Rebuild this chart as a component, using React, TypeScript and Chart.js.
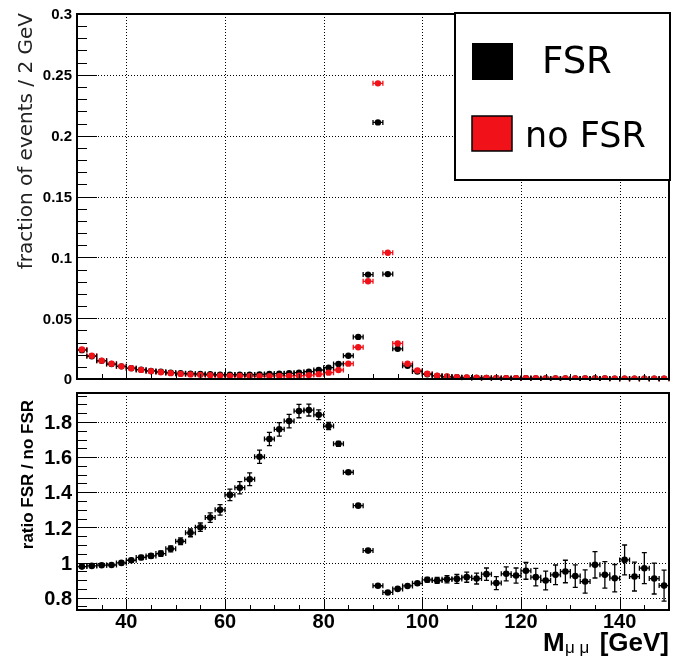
import React, { useEffect, useRef } from 'react';
import { Chart, registerables } from 'chart.js';

Chart.register(...registerables);

// ---- data ----
const massBins = [
  31, 33, 35, 37, 39, 41, 43, 45, 47, 49,
  51, 53, 55, 57, 59, 61, 63, 65, 67, 69,
  71, 73, 75, 77, 79, 81, 83, 85, 87, 89,
  91, 93, 95, 97, 99, 101, 103, 105, 107, 109,
  111, 113, 115, 117, 119, 121, 123, 125, 127, 129,
  131, 133, 135, 137, 139, 141, 143, 145, 147, 149,
];
const binHalfWidth = 1;

const noFsrFraction = [
  0.0243, 0.0191, 0.0151, 0.0125, 0.0104, 0.0088, 0.0075, 0.0064, 0.0056, 0.0048,
  0.0042, 0.0038, 0.0034, 0.0031, 0.0028, 0.0026, 0.0025, 0.0024, 0.0024, 0.0024,
  0.0025, 0.0026, 0.0028, 0.0032, 0.0040, 0.0052, 0.0074, 0.0126, 0.0261, 0.0803,
  0.2430, 0.1038, 0.0292, 0.0125, 0.0070, 0.0043, 0.0028, 0.0020, 0.0015, 0.0012,
  0.0010, 0.0009, 0.0008, 0.0007, 0.0007, 0.0006, 0.0006, 0.0005, 0.0005, 0.0005,
  0.0004, 0.0004, 0.0004, 0.0004, 0.0003, 0.0003, 0.0003, 0.0003, 0.0003, 0.0003,
];

const fsrFraction = [
  0.0237, 0.0187, 0.0149, 0.0123, 0.0104, 0.0089, 0.0077, 0.0066, 0.0059, 0.0052,
  0.0047, 0.0044, 0.0041, 0.0039, 0.0036, 0.0036, 0.0036, 0.0035, 0.0038, 0.0041,
  0.0044, 0.0047, 0.0052, 0.0060, 0.0074, 0.0093, 0.0124, 0.0191, 0.0346, 0.0858,
  0.2109, 0.0862, 0.0248, 0.0108, 0.0062, 0.0039, 0.0025, 0.0018, 0.0014, 0.0011,
  0.0009, 0.0008, 0.0007, 0.00066, 0.00065, 0.00057, 0.00055, 0.00045, 0.00047, 0.00047,
  0.00037, 0.00036, 0.0004, 0.00037, 0.00027, 0.0003, 0.00028, 0.00029, 0.00027, 0.00026,
];

const ratioValues = [
  0.977, 0.981, 0.985, 0.986, 0.998, 1.013, 1.029, 1.038, 1.051, 1.078,
  1.121, 1.169, 1.201, 1.256, 1.300, 1.385, 1.426, 1.474, 1.602, 1.703,
  1.758, 1.805, 1.862, 1.868, 1.841, 1.777, 1.676, 1.514, 1.324, 1.068,
  0.868, 0.830, 0.850, 0.867, 0.882, 0.902, 0.898, 0.905, 0.907, 0.917,
  0.909, 0.934, 0.883, 0.936, 0.926, 0.953, 0.917, 0.898, 0.930, 0.949,
  0.923, 0.892, 0.987, 0.930, 0.911, 1.015, 0.920, 0.968, 0.909, 0.869,
];

const ratioErrors = [
  0.007, 0.007, 0.008, 0.008, 0.009, 0.011, 0.012, 0.013, 0.015, 0.017,
  0.019, 0.022, 0.024, 0.027, 0.030, 0.033, 0.035, 0.036, 0.038, 0.038,
  0.038, 0.038, 0.038, 0.034, 0.028, 0.021, 0.014, 0.009, 0.006, 0.004,
  0.003, 0.004, 0.005, 0.007, 0.009, 0.013, 0.017, 0.021, 0.025, 0.029,
  0.031, 0.035, 0.037, 0.040, 0.043, 0.048, 0.050, 0.053, 0.056, 0.064,
  0.064, 0.066, 0.075, 0.075, 0.078, 0.085, 0.082, 0.088, 0.088, 0.088,
];

const topYTicks = [0, 0.05, 0.1, 0.15, 0.2, 0.25, 0.3];
const topYLabels = ['0', '0.05', '0.1', '0.15', '0.2', '0.25', '0.3'];
const bottomYTicks = [0.8, 1.0, 1.2, 1.4, 1.6, 1.8];
const bottomYLabels = ['0.8', '1', '1.2', '1.4', '1.6', '1.8'];
const xTicks = [40, 60, 80, 100, 120, 140];
const xTickLabels = ['40', '60', '80', '100', '120', '140'];
const legendLabels = ['FSR', 'no FSR'];
const topYTitle = 'fraction of events / 2 GeV';
const bottomYTitle = 'ratio FSR / no FSR';
const xTitleMain = 'M';
const xTitleSub = 'μ μ';
const xTitleUnit = '[GeV]';

const RED = '#f01218';
const BLACK = '#000000';
const SANS = '"Liberation Sans", Arial, Helvetica, sans-serif';
const DEJAVU = '"DejaVu Sans", sans-serif';

function steps(a: number, b: number, s: number): number[] {
  const out: number[] = [];
  const n = Math.round((b - a) / s);
  for (let i = 0; i <= n; i++) out.push(+(a + i * s).toFixed(6));
  return out;
}

type Cfg = {
  yMajor: number[];
  yLabels: string[];
  yMinorStep: number;
  yLabelFont: string;
  xLabels: boolean;
  errorsY: boolean;
  isTop: boolean;
};

function makePlugin(cfg: Cfg) {
  return {
    id: 'rootStyle' + (cfg.isTop ? 'Top' : 'Bottom'),
    beforeDatasetsDraw(chart: any) {
      const { ctx, chartArea } = chart;
      const { left, right, top, bottom } = chartArea;
      const xs = chart.scales.x;
      const ys = chart.scales.y;
      ctx.save();
      ctx.strokeStyle = '#000';
      ctx.lineWidth = 1;
      ctx.setLineDash([1, 2]);
      xTicks.forEach((v) => {
        const px = Math.round(xs.getPixelForValue(v)) + 0.5;
        ctx.beginPath();
        ctx.moveTo(px, top);
        ctx.lineTo(px, bottom);
        ctx.stroke();
      });
      cfg.yMajor.forEach((v) => {
        if (v <= ys.min + 1e-9 || v >= ys.max - 1e-9) return;
        const py = Math.round(ys.getPixelForValue(v)) + 0.5;
        ctx.beginPath();
        ctx.moveTo(left, py);
        ctx.lineTo(right, py);
        ctx.stroke();
      });
      ctx.setLineDash([]);
      // error bars
      chart.data.datasets.forEach((ds: any) => {
        ctx.strokeStyle = ds.backgroundColor;
        ctx.lineWidth = 1.3;
        ds.data.forEach((p: any, i: number) => {
          const cx = xs.getPixelForValue(p.x);
          const cy = ys.getPixelForValue(p.y);
          const x0 = xs.getPixelForValue(p.x - binHalfWidth);
          const x1 = xs.getPixelForValue(p.x + binHalfWidth);
          ctx.beginPath();
          ctx.moveTo(x0, cy);
          ctx.lineTo(x1, cy);
          ctx.moveTo(x0, cy - 2.5);
          ctx.lineTo(x0, cy + 2.5);
          ctx.moveTo(x1, cy - 2.5);
          ctx.lineTo(x1, cy + 2.5);
          ctx.stroke();
          if (cfg.errorsY && ds.errors) {
            const e = ds.errors[i];
            const y0 = ys.getPixelForValue(p.y - e);
            const y1 = ys.getPixelForValue(p.y + e);
            ctx.beginPath();
            ctx.moveTo(cx, y0);
            ctx.lineTo(cx, y1);
            ctx.moveTo(cx - 2.5, y0);
            ctx.lineTo(cx + 2.5, y0);
            ctx.moveTo(cx - 2.5, y1);
            ctx.lineTo(cx + 2.5, y1);
            ctx.stroke();
          }
        });
      });
      ctx.restore();
    },
    afterDatasetsDraw(chart: any) {
      const { ctx, chartArea } = chart;
      const { left, right, top, bottom } = chartArea;
      const xs = chart.scales.x;
      const ys = chart.scales.y;
      ctx.save();
      ctx.strokeStyle = '#000';
      ctx.fillStyle = '#000';
      // ticks
      ctx.lineWidth = 1;
      ctx.beginPath();
      steps(xs.min, xs.max, 5).forEach((v) => {
        if (v <= xs.min || v >= xs.max) return;
        const major = xTicks.indexOf(v) >= 0;
        const px = Math.round(xs.getPixelForValue(v)) + 0.5;
        ctx.moveTo(px, bottom);
        ctx.lineTo(px, bottom - (major ? 11 : 5));
      });
      const yMinors = steps(
        Math.ceil(ys.min / cfg.yMinorStep - 1e-9) * cfg.yMinorStep,
        Math.floor(ys.max / cfg.yMinorStep + 1e-9) * cfg.yMinorStep,
        cfg.yMinorStep
      );
      yMinors.forEach((v) => {
        if (v <= ys.min + 1e-9 || v >= ys.max - 1e-9) return;
        const major = cfg.yMajor.some((m) => Math.abs(m - v) < 1e-6);
        const py = Math.round(ys.getPixelForValue(v)) + 0.5;
        ctx.moveTo(left, py);
        ctx.lineTo(left + (major ? 20 : 10), py);
      });
      ctx.stroke();
      // frame
      ctx.lineWidth = 2;
      ctx.strokeRect(left, top, right - left, bottom - top);
      // y tick labels
      ctx.font = cfg.yLabelFont;
      ctx.textAlign = 'right';
      ctx.textBaseline = 'alphabetic';
      const ySize = parseFloat(cfg.yLabelFont.match(/(\d+)px/)![1]);
      cfg.yMajor.forEach((v, i) => {
        const py = ys.getPixelForValue(v);
        ctx.fillText(cfg.yLabels[i], left - 5, py + 0.358 * ySize);
      });
      if (cfg.xLabels) {
        ctx.font = 'bold 20px ' + SANS;
        ctx.textAlign = 'center';
        xTicks.forEach((v, i) => {
          ctx.fillText(xTickLabels[i], xs.getPixelForValue(v), bottom + 18);
        });
        // x title
        ctx.textAlign = 'left';
        ctx.font = 'bold 26px ' + SANS;
        ctx.fillText(xTitleMain, 543, bottom + 41);
        ctx.font = '17px ' + SANS;
        ctx.fillText(xTitleSub, 565, bottom + 43);
        ctx.textAlign = 'right';
        ctx.font = 'bold 26px ' + SANS;
        ctx.fillText(xTitleUnit, right, bottom + 41);
      }
      // y title
      ctx.save();
      if (cfg.isTop) {
        ctx.translate(31.5, top - 1);
        ctx.font = '20px ' + DEJAVU;
        ctx.fillStyle = '#222';
      } else {
        ctx.translate(33, top + 7);
        ctx.font = 'bold 17px ' + SANS;
      }
      ctx.rotate(-Math.PI / 2);
      ctx.textAlign = 'right';
      ctx.textBaseline = 'alphabetic';
      ctx.fillText(cfg.isTop ? topYTitle : bottomYTitle, 0, 0);
      ctx.restore();
      // legend
      if (cfg.isTop) {
        ctx.fillStyle = '#fff';
        ctx.fillRect(455, 13, 215, 167);
        ctx.lineWidth = 2;
        ctx.strokeStyle = '#000';
        ctx.strokeRect(455, 13, 215, 167);
        ctx.fillStyle = BLACK;
        ctx.fillRect(472, 43, 41, 37);
        ctx.fillStyle = RED;
        ctx.fillRect(472, 116, 40, 35);
        ctx.lineWidth = 1.5;
        ctx.strokeRect(472, 116, 40, 35);
        ctx.fillStyle = '#000';
        ctx.textAlign = 'left';
        ctx.font = '37px ' + DEJAVU;
        ctx.fillText(legendLabels[0], 542, 73);
        ctx.font = '35px ' + DEJAVU;
        ctx.fillText(legendLabels[1], 525, 147);
      }
      ctx.restore();
    },
  };
}

export default function App() {
  const topRef = useRef<HTMLCanvasElement | null>(null);
  const botRef = useRef<HTMLCanvasElement | null>(null);

  useEffect(() => {
    const common = (pad: any, ymin: number, ymax: number) => ({
      animation: false as const,
      responsive: false,
      devicePixelRatio: 1,
      events: [] as any[],
      layout: { padding: pad },
      plugins: { legend: { display: false }, tooltip: { enabled: false } },
      scales: {
        x: { type: 'linear' as const, min: 30, max: 150, display: false },
        y: { type: 'linear' as const, min: ymin, max: ymax, display: false },
      },
    });

    const top = new Chart(topRef.current!, {
      type: 'scatter',
      data: {
        datasets: [
          {
            label: legendLabels[1],
            data: massBins.map((m, i) => ({ x: m, y: noFsrFraction[i] })),
            backgroundColor: RED,
            borderColor: RED,
            borderWidth: 0,
            pointRadius: 3.2,
          },
          {
            label: legendLabels[0],
            data: massBins.map((m, i) => ({ x: m, y: fsrFraction[i] })),
            backgroundColor: BLACK,
            borderColor: BLACK,
            borderWidth: 0,
            pointRadius: 3.2,
          },
        ],
      },
      options: common({ left: 77, right: 3, top: 14, bottom: 7 }, 0, 0.3) as any,
      plugins: [
        makePlugin({
          yMajor: topYTicks,
          yLabels: topYLabels,
          yMinorStep: 0.01,
          yLabelFont: 'bold 15px ' + SANS,
          xLabels: false,
          errorsY: false,
          isTop: true,
        }),
      ],
    });

    const bottom = new Chart(botRef.current!, {
      type: 'scatter',
      data: {
        datasets: [
          {
            label: 'ratio',
            data: massBins.map((m, i) => ({ x: m, y: ratioValues[i] })),
            errors: ratioErrors,
            backgroundColor: BLACK,
            borderColor: BLACK,
            borderWidth: 0,
            pointRadius: 3.3,
          } as any,
        ],
      },
      options: common({ left: 77, right: 3, top: 7, bottom: 54 }, 0.73, 1.965) as any,
      plugins: [
        makePlugin({
          yMajor: bottomYTicks,
          yLabels: bottomYLabels,
          yMinorStep: 0.05,
          yLabelFont: 'bold 20px ' + SANS,
          xLabels: true,
          errorsY: true,
          isTop: false,
        }),
      ],
    });

    return () => {
      top.destroy();
      bottom.destroy();
    };
  }, []);

  return (
    <div style={{ position: 'absolute', left: 0, top: 0, width: 673, height: 664, background: '#fff' }}>
      <canvas ref={topRef} width={673} height={386} style={{ position: 'absolute', left: 0, top: 0 }} />
      <canvas ref={botRef} width={673} height={278} style={{ position: 'absolute', left: 0, top: 386 }} />
    </div>
  );
}
